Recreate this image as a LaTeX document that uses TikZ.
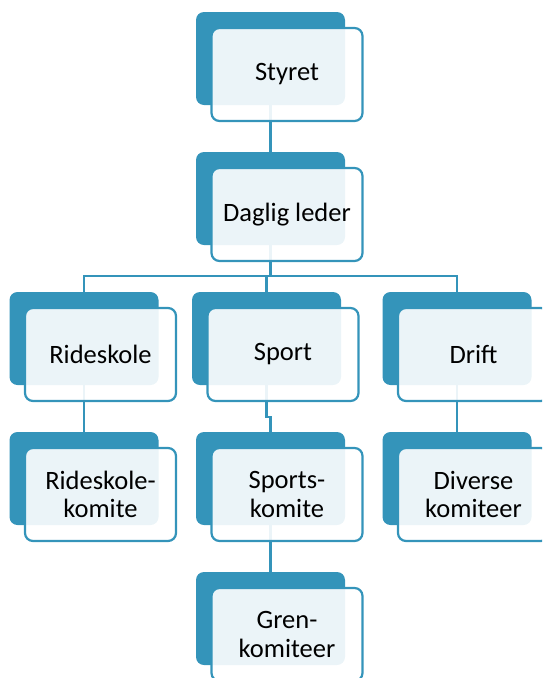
\documentclass[tikz,border=0pt]{standalone}
\usepackage{fontspec}
\setmainfont{Carlito}
\usetikzlibrary{positioning}
\definecolor{boxblue}{HTML}{3494BA}
\tikzset{
        back/.style={fill=boxblue, rounded corners=8pt, minimum width=149pt, minimum height=93pt, inner sep=0pt},
        front/.style={draw=boxblue, line width=2.2pt, fill=white, fill opacity=0.9, text opacity=1,
                rounded corners=8pt, minimum width=151pt, minimum height=93pt, inner sep=0pt,
                align=center, font=\fontsize{26.5}{28.5}\selectfont},
        link/.style={draw=boxblue, line width=2.2pt}
}

\begin{document}
\begin{tikzpicture}[x=1pt,y=-1pt]
        \clip (0,0) rectangle (542,678);
        \node[back] (styret) at (270.5,58.5) {};
        \node[back] (leder) at (270.5,198.5) {};
        \node[back] (rideskole) at (84,338.5) {};
        \node[back] (sport) at (266.5,338.5) {};
        \node[back] (drift) at (457,338.5) {};
        \node[back] (ridekomite) at (84,478.5) {};
        \node[back] (sportkomite) at (270.5,478.5) {};
        \node[back] (diverse) at (457,478.5) {};
        \node[back] (gren) at (270.5,618.5) {};
        \coordinate (bar) at (0,276);
        \coordinate (jog) at (0,417);
        \draw[link] (styret.south) -- (leder.north);
        \draw[link] (leder.south) -- (leder.south |- bar);
        \draw[link] (rideskole.north) -- (rideskole.north |- bar) -- (drift.north |- bar) -- (drift.north);
        \draw[link] (sport.north) -- (sport.north |- bar);
        \draw[link] (rideskole.south) -- (ridekomite.north);
        \draw[link] (sport.south) -- (sport.south |- jog) -- (sportkomite.north |- jog) -- (sportkomite.north);
        \draw[link] (drift.south) -- (diverse.north);
        \draw[link] (sportkomite.south) -- (gren.north);
        \node[front] (styret-f) at ([shift={(16.5,16)}]styret) {Styret};
        \node[front] (leder-f) at ([shift={(16.5,16)}]leder) {Daglig leder};
        \node[front] (rideskole-f) at ([shift={(16.5,16)}]rideskole) {Rideskole};
        \node[front] (sport-f) at ([shift={(16.5,16)}]sport) {Sport};
        \node[front] (drift-f) at ([shift={(16.5,16)}]drift) {Drift};
        \node[front] (ridekomite-f) at ([shift={(16.5,16)}]ridekomite) {Rideskole-\\komite};
        \node[front] (sportkomite-f) at ([shift={(16.5,16)}]sportkomite) {Sports-\\komite};
        \node[front] (diverse-f) at ([shift={(16.5,16)}]diverse) {Diverse\\komiteer};
        \node[front] (gren-f) at ([shift={(16.5,16)}]gren) {Gren-\\komiteer};
\end{tikzpicture}
\end{document}
